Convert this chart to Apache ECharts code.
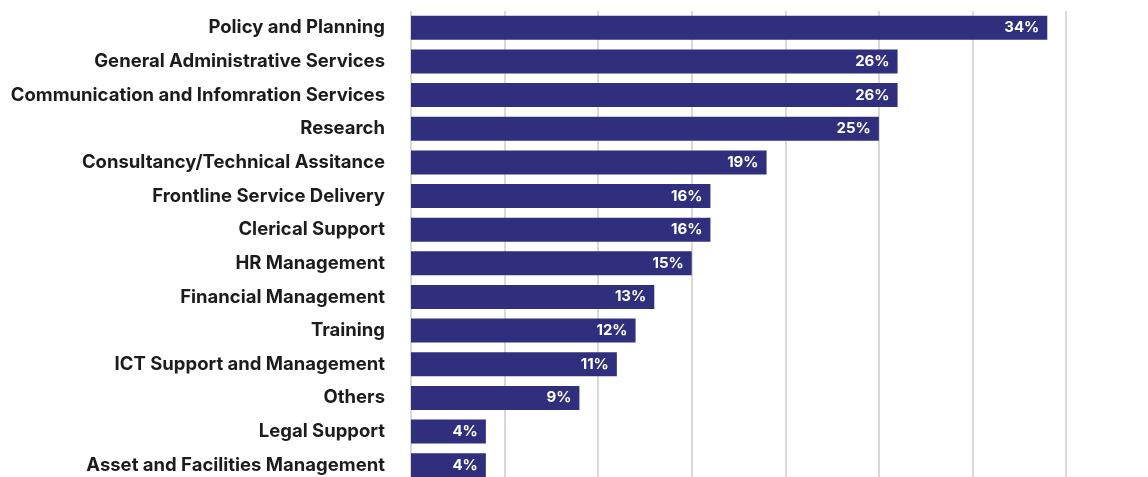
<!DOCTYPE html>
<html>
<head>
<meta charset="utf-8">
<script src="https://cdn.jsdelivr.net/npm/echarts@6/dist/echarts.min.js"></script>
<style>
  html, body { margin: 0; padding: 0; background: #ffffff; overflow: hidden; }
  #chart { width: 1148px; height: 482px; }
</style>
</head>
<body>
<div id="chart"></div>
<script>
// Share of respondents by area of work (%)
const categories = [
  'Policy and Planning',
  'General Administrative Services',
  'Communication and Infomration Services',
  'Research',
  'Consultancy/Technical Assitance',
  'Frontline Service Delivery',
  'Clerical Support',
  'HR Management',
  'Financial Management',
  'Training',
  'ICT Support and Management',
  'Others',
  'Legal Support',
  'Asset and Facilities Management'
];
const values = [34, 26, 26, 25, 19, 16, 16, 15, 13, 12, 11, 9, 4, 4];

const chart = echarts.init(document.getElementById('chart'), null, { renderer: 'canvas' });

chart.setOption({
  animation: false,
  grid: { left: 411, right: 82, top: 11, bottom: 0, containLabel: false },
  xAxis: {
    type: 'value',
    min: 0,
    max: 35,
    interval: 5,
    axisLabel: { show: false },
    axisLine: { show: false },
    axisTick: { show: false },
    splitLine: { show: true, lineStyle: { color: '#cccccc', width: 1.5 } }
  },
  yAxis: {
    type: 'category',
    data: categories,
    inverse: true,
    axisLine: { show: false },
    axisTick: { show: false },
    axisLabel: {
      margin: 26,
      color: '#1c1c1c',
      fontFamily: 'Inter',
      fontWeight: 700,
      fontSize: 18.5
    }
  },
  series: [{
    type: 'bar',
    data: values,
    barWidth: 24,
    itemStyle: { color: '#302F7D' },
    label: {
      show: true,
      position: 'insideRight',
      distance: 8,
      formatter: '{c}%',
      color: '#ffffff',
      fontFamily: 'Inter',
      fontWeight: 700,
      fontSize: 15
    }
  }]
});
</script>
</body>
</html>
